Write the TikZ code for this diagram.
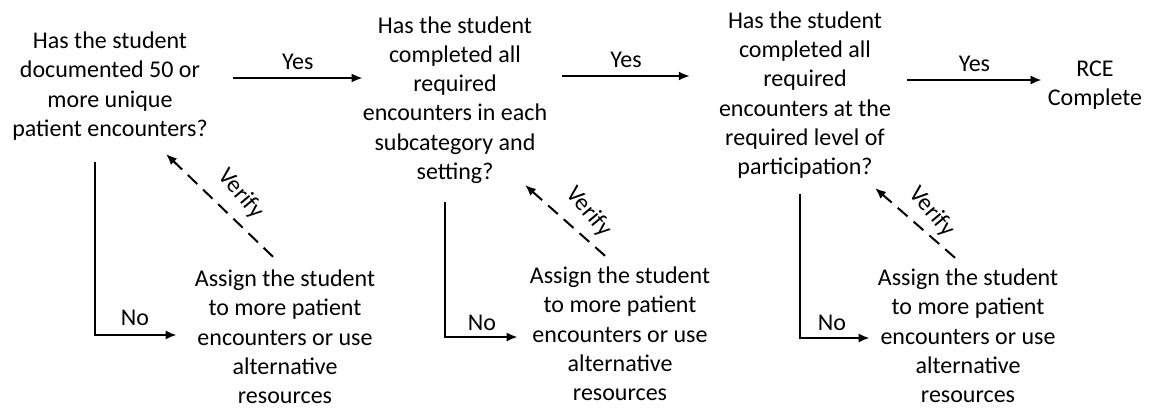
\documentclass[tikz,border=0pt]{standalone}
\usepackage{fontspec}
\setmainfont{Carlito}
\usetikzlibrary{arrows.meta,calc}
\begin{document}
\begin{tikzpicture}[x=1pt,y=-1pt,
  txt/.style={align=center,font=\fontsize{24}{29.3}\selectfont,inner sep=6pt},
  lbl/.style={font=\fontsize{24}{29.3}\selectfont,inner sep=0pt},
  arr/.style={line width=2pt,-{Latex[length=11pt,width=9pt]}},
  varr/.style={line width=2pt,dash pattern=on 13pt off 8pt,-{Latex[length=11pt,width=9pt]}}]
\useasboundingbox (0,0) rectangle (1155,407);
% questions
\node[txt] (q1) at (110,86) {Has the student\\documented 50 or\\more unique\\patient encounters?};
\node[txt] (q2) at (455,100) {Has the student\\completed all\\required\\encounters in each\\subcategory and\\setting?};
\node[txt] (q3) at (805,95) {Has the student\\completed all\\required\\encounters at the\\required level of\\participation?};
\node[txt] (rce) at (1095,85) {RCE\\Complete};
% assign nodes
\node[txt] (a1) at (285,337) {Assign the student\\to more patient\\encounters or use\\alternative\\resources};
\node[txt] (a2) at (620,334) {Assign the student\\to more patient\\encounters or use\\alternative\\resources};
\node[txt] (a3) at (968,336) {Assign the student\\to more patient\\encounters or use\\alternative\\resources};
% yes arrows
\draw[arr] ([xshift=19pt]q1.east |- 0,78) -- node[lbl,above=7pt] (y1) {Yes} ([xshift=6pt]q2.west |- 0,78);
\draw[arr] ([xshift=9pt]q2.east |- 0,76) -- node[lbl,above=7pt] (y2) {Yes} ([xshift=-23pt]q3.west |- 0,76);
\draw[arr] ([xshift=10pt]q3.east |- 0,80) -- node[lbl,above=7pt] (y3) {Yes} (rce.west |- 0,80);
% no arrows
\coordinate (n1) at (95,162);
\coordinate (n2) at (445,202);
\coordinate (n3) at (800,194);
\draw[arr] (n1) |- ([xshift=-12pt]a1.west |- 0,335);
\draw[arr] (n2) |- ([xshift=-6pt]a2.west |- 0,337);
\draw[arr] (n3) |- ([xshift=-2pt]a3.west |- 0,338);
\node[lbl] (no1) at (135,318) {No};
\node[lbl] (no2) at (482,323) {No};
\node[lbl] (no3) at (832,323) {No};
% verify arrows
\coordinate (v1) at (166,154);
\coordinate (v2) at (525,185);
\coordinate (v3) at (875,188);
\draw[varr] ([shift={(-12,-7)}]a1.north) -- (v1);
\draw[varr] ([shift={(-15,-5)}]a2.north) -- (v2);
\draw[varr] ([shift={(-13,-5)}]a3.north) -- (v3);
\node[lbl,rotate=-50] (vf1) at (241,194) {Verify};
\node[lbl,rotate=-50] (vf2) at (589,212) {Verify};
\node[lbl,rotate=-50] (vf3) at (932,212) {Verify};
\end{tikzpicture}
\end{document}
